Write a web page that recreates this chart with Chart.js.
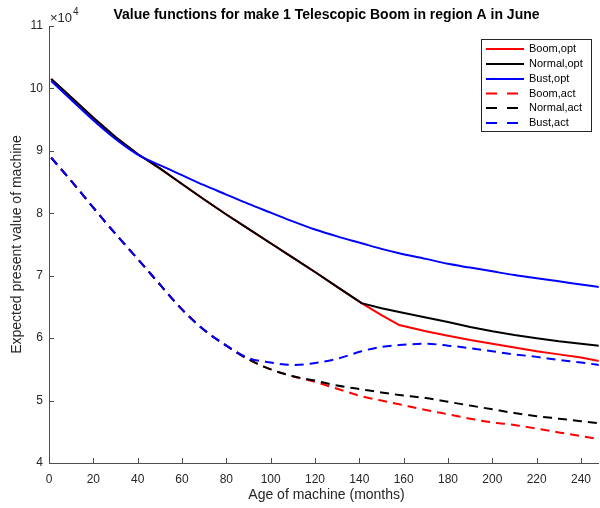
<!DOCTYPE html>
<html>
<head>
<meta charset="utf-8">
<script src="https://cdn.jsdelivr.net/npm/chart.js@4"></script>
<style>
  html, body { margin: 0; padding: 0; background: #fff; }
  #wrap { width: 600px; height: 508px; }
</style>
</head>
<body>
<div id="wrap"><canvas id="valueChart" width="600" height="508"></canvas></div>
<script>
// values in units of 10^4
const months = [1, 10, 20, 30, 40, 50, 60, 70, 80, 90, 100, 110, 120, 130, 141, 150, 158, 170, 180, 190, 200, 210, 220, 230, 240, 250];

const boomOpt   = [10.15, 9.86, 9.53, 9.22, 8.95, 8.72, 8.47, 8.22, 7.98, 7.75, 7.52, 7.29, 7.06, 6.82, 6.56, 6.37, 6.21, 6.11, 6.04, 5.97, 5.91, 5.85, 5.79, 5.74, 5.69, 5.62];
const normalOpt = [10.15, 9.86, 9.53, 9.22, 8.95, 8.72, 8.47, 8.22, 7.98, 7.75, 7.52, 7.29, 7.06, 6.82, 6.56, 6.48, 6.42, 6.33, 6.26, 6.18, 6.11, 6.05, 6.00, 5.95, 5.91, 5.87];
const bustOpt   = [10.12, 9.82, 9.49, 9.19, 8.94, 8.77, 8.61, 8.45, 8.30, 8.15, 8.01, 7.87, 7.74, 7.63, 7.52, 7.43, 7.36, 7.27, 7.19, 7.13, 7.07, 7.01, 6.96, 6.91, 6.86, 6.81];
const boomAct   = [8.89, 8.52, 8.09, 7.67, 7.27, 6.86, 6.46, 6.13, 5.88, 5.66, 5.50, 5.39, 5.30, 5.19, 5.07, 5.00, 4.94, 4.85, 4.78, 4.71, 4.65, 4.61, 4.55, 4.49, 4.43, 4.37];
const normalAct = [8.89, 8.52, 8.09, 7.67, 7.27, 6.86, 6.46, 6.13, 5.88, 5.66, 5.50, 5.39, 5.32, 5.24, 5.18, 5.13, 5.09, 5.04, 4.98, 4.92, 4.86, 4.80, 4.75, 4.71, 4.67, 4.63];
const bustAct   = [8.89, 8.52, 8.09, 7.67, 7.27, 6.86, 6.46, 6.13, 5.88, 5.68, 5.61, 5.57, 5.60, 5.67, 5.79, 5.86, 5.89, 5.91, 5.88, 5.84, 5.79, 5.74, 5.70, 5.65, 5.61, 5.56];

const seriesLabels = ['Boom,opt', 'Normal,opt', 'Bust,opt', 'Boom,act', 'Normal,act', 'Bust,act'];
const seriesValues = [boomOpt, normalOpt, bustOpt, boomAct, normalAct, bustAct];
const seriesColors = ['#ff0000', '#000000', '#0000ff', '#ff0000', '#000000', '#0000ff'];
const seriesDashed = [false, false, false, true, true, true];

const xTicks = [0, 20, 40, 60, 80, 100, 120, 140, 160, 180, 200, 220, 240];
const yTicks = [4, 5, 6, 7, 8, 9, 10, 11];

const axisColor = '#4d4d4d';
const textColor = '#262626';
const fontFamily = '"Liberation Sans", Arial, Helvetica, sans-serif';

const datasets = seriesLabels.map((label, i) => ({
  label: label,
  data: months.map((m, j) => ({ x: m, y: seriesValues[i][j] })),
  borderColor: seriesColors[i],
  backgroundColor: seriesColors[i],
  borderWidth: 2,
  borderDash: seriesDashed[i] ? [9, 6] : [],
  pointRadius: 0,
  fill: false,
  tension: 0,
  cubicInterpolationMode: (i === 0 || i === 1) ? 'default' : 'monotone',
  order: seriesLabels.length - i  // later series drawn on top, like MATLAB
}));

// inward tick marks, title, axis labels, exponent and legend
const matlabDecor = {
  id: 'matlabDecor',
  afterDraw(chart) {
    const ctx = chart.ctx;
    const area = chart.chartArea;
    const xs = chart.scales.x;
    const ys = chart.scales.y;

    ctx.save();
    ctx.strokeStyle = axisColor;
    ctx.lineWidth = 1;
    ctx.beginPath();
    xTicks.forEach(v => {
      const px = Math.round(xs.getPixelForValue(v)) + 0.5;
      ctx.moveTo(px, area.bottom);
      ctx.lineTo(px, area.bottom - 5);
    });
    yTicks.forEach(v => {
      const py = Math.round(ys.getPixelForValue(v)) + 0.5;
      ctx.moveTo(area.left, py);
      ctx.lineTo(area.left + 5, py);
    });
    ctx.stroke();

    const midX = (area.left + 604) / 2;

    // title
    ctx.fillStyle = '#000';
    ctx.font = 'bold 14px ' + fontFamily;
    ctx.textAlign = 'center';
    ctx.textBaseline = 'middle';
    ctx.fillText('Value functions for make 1 Telescopic Boom in region A in June', midX, 15);

    // x label
    ctx.fillStyle = textColor;
    ctx.font = '14px ' + fontFamily;
    ctx.fillText('Age of machine (months)', midX, 495);

    // y label
    ctx.save();
    ctx.translate(17, (area.top + area.bottom) / 2);
    ctx.rotate(-Math.PI / 2);
    ctx.fillText('Expected present value of machine', 0, 0);
    ctx.restore();

    // exponent
    ctx.textAlign = 'left';
    ctx.font = '13px ' + fontFamily;
    ctx.fillText('\u00d710', 50, 18);
    ctx.font = '10px ' + fontFamily;
    ctx.fillText('4', 73, 12);

    // legend
    const box = { x: 481.5, y: 39.5, w: 110, h: 92 };
    ctx.fillStyle = '#fff';
    ctx.fillRect(box.x, box.y, box.w, box.h);
    ctx.strokeStyle = '#262626';
    ctx.lineWidth = 1;
    ctx.setLineDash([]);
    ctx.strokeRect(box.x, box.y, box.w, box.h);
    ctx.font = '11px ' + fontFamily;
    ctx.textBaseline = 'middle';
    const rowY = [49, 64, 79, 93.5, 108, 123];
    seriesLabels.forEach((label, i) => {
      ctx.strokeStyle = seriesColors[i];
      ctx.lineWidth = 2;
      ctx.setLineDash(seriesDashed[i] ? [11, 10] : []);
      ctx.beginPath();
      ctx.moveTo(486, rowY[i]);
      ctx.lineTo(seriesDashed[i] ? 518 : 524, rowY[i]);
      ctx.stroke();
      ctx.fillStyle = '#000';
      ctx.fillText(label, 529, rowY[i]);
    });
    ctx.restore();
  }
};

new Chart(document.getElementById('valueChart'), {
  type: 'line',
  data: { datasets: datasets },
  options: {
    responsive: false,
    animation: false,
    devicePixelRatio: 1,
    layout: { padding: { top: 26, left: 0, right: 0, bottom: 0 } },
    plugins: {
      legend: { display: false },
      title: { display: false },
      tooltip: { enabled: false }
    },
    scales: {
      x: {
        type: 'linear',
        min: 0,
        max: 248,
        grid: { display: false, drawTicks: false },
        border: { display: true, color: axisColor, width: 1 },
        ticks: {
          color: textColor,
          font: { family: fontFamily, size: 12 },
          padding: 9,
          maxRotation: 0,
          autoSkip: false
        },
        afterBuildTicks: scale => { scale.ticks = xTicks.map(v => ({ value: v })); },
        afterFit: scale => { scale.height = 45; }
      },
      y: {
        type: 'linear',
        min: 4,
        max: 11,
        grid: { display: false, drawTicks: false },
        border: { display: true, color: axisColor, width: 1 },
        ticks: {
          color: textColor,
          font: { family: fontFamily, size: 12 },
          padding: 6
        },
        afterBuildTicks: scale => { scale.ticks = yTicks.map(v => ({ value: v })); },
        afterFit: scale => { scale.width = 49; }
      }
    }
  },
  plugins: [matlabDecor]
});
</script>
</body>
</html>
